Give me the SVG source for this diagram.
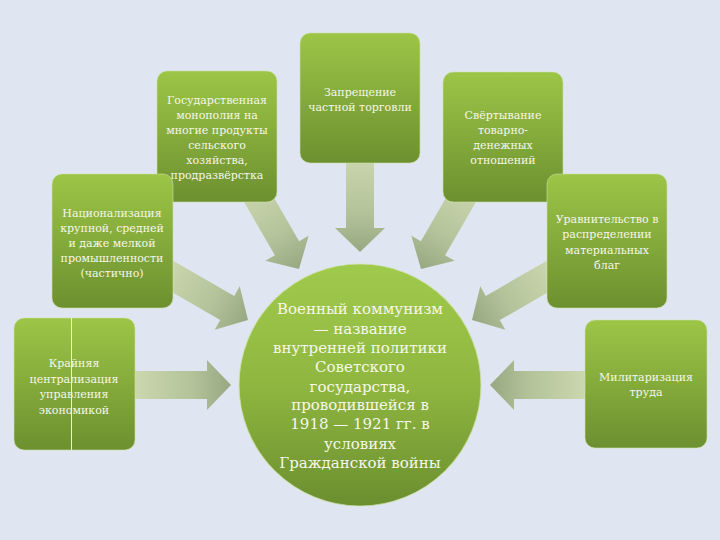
<svg xmlns="http://www.w3.org/2000/svg" width="720" height="540" viewBox="0 0 720 540">
<defs>
<linearGradient id="gBox" x1="0" y1="0" x2="0" y2="1">
<stop offset="0" stop-color="#9dc546"/>
<stop offset="1" stop-color="#6c9030"/>
</linearGradient>
<linearGradient id="gCircle" x1="0" y1="0" x2="0" y2="1">
<stop offset="0" stop-color="#a0ca4c"/>
<stop offset="0.5" stop-color="#8fb740"/>
<stop offset="1" stop-color="#6b8e2f"/>
</linearGradient>
<linearGradient id="gArrow" x1="0" y1="0" x2="1" y2="0">
<stop offset="0" stop-color="#cdd9b0"/>
<stop offset="0.6" stop-color="#b4c39a"/>
<stop offset="1" stop-color="#97a882"/>
</linearGradient>
<path id="arrow" d="M0,-14 H76 V-25 L100,0 L76,25 V14 H0 Z"/>
</defs>
<style>
.box{fill:url(#gBox);stroke:#cfe0a8;stroke-opacity:0.6;stroke-width:1}
.circ{fill:url(#gCircle);stroke:#d2e2ad;stroke-opacity:0.7;stroke-width:1.2}
.arr{fill:url(#gArrow)}
.t{font-family:'DejaVu Serif',serif;font-size:11px;fill:#f6f7ea;text-anchor:middle}
.tc{font-family:'DejaVu Serif',serif;font-size:15px;fill:#f6f7ea;text-anchor:middle}
</style>
<rect width="720" height="540" fill="#dfe6f1"/>
<g id="connectors">
<use href="#arrow" class="arr" transform="translate(360,152) rotate(90)"/>
<use href="#arrow" class="arr" transform="translate(131,385)"/>
<use href="#arrow" class="arr" transform="translate(590,385) rotate(180)"/>
<use href="#arrow" class="arr" transform="translate(249,182.5) rotate(60)"/>
<use href="#arrow" class="arr" transform="translate(471,182.5) rotate(120)"/>
<use href="#arrow" class="arr" transform="translate(161.4,270) rotate(30)"/>
<use href="#arrow" class="arr" transform="translate(558.6,270) rotate(150)"/>
</g>
<g id="center">
<circle class="circ" cx="360" cy="385" r="121"/>
<text class="tc" x="360" y="314">Военный коммунизм</text>
<text class="tc" x="360" y="334">— название</text>
<text class="tc" x="360" y="353">внутренней политики</text>
<text class="tc" x="360" y="372">Советского</text>
<text class="tc" x="360" y="392">государства,</text>
<text class="tc" x="360" y="410">проводившейся в</text>
<text class="tc" x="360" y="429">1918 — 1921 гг. в</text>
<text class="tc" x="360" y="449">условиях</text>
<text class="tc" x="360" y="468">Гражданской войны</text>
</g>
<g id="n1">
<rect class="box" x="157" y="71" width="120" height="131" rx="10"/>
<text class="t" x="217" y="104">Государственная</text>
<text class="t" x="217" y="119">монополия на</text>
<text class="t" x="217" y="134">многие продукты</text>
<text class="t" x="217" y="149">сельского</text>
<text class="t" x="217" y="164">хозяйства,</text>
<text class="t" x="217" y="179">продразвёрстка</text>
</g>
<g id="n2">
<rect class="box" x="300" y="33" width="120" height="130" rx="10"/>
<text class="t" x="360" y="96">Запрещение</text>
<text class="t" x="360" y="111">частной торговли</text>
</g>
<g id="n3">
<rect class="box" x="443" y="72" width="120" height="130" rx="10"/>
<text class="t" x="503" y="119">Свёртывание</text>
<text class="t" x="503" y="134">товарно-</text>
<text class="t" x="503" y="149">денежных</text>
<text class="t" x="503" y="164">отношений</text>
</g>
<g id="n4">
<rect class="box" x="547" y="174" width="120" height="134" rx="10"/>
<text class="t" x="607" y="223">Уравнительство в</text>
<text class="t" x="607" y="238">распределении</text>
<text class="t" x="607" y="254">материальных</text>
<text class="t" x="607" y="269">благ</text>
</g>
<g id="n5">
<rect class="box" x="52" y="174" width="121" height="134" rx="10"/>
<text class="t" x="112" y="217">Национализация</text>
<text class="t" x="112" y="232">крупной, средней</text>
<text class="t" x="112" y="247">и даже мелкой</text>
<text class="t" x="112" y="262">промышленности</text>
<text class="t" x="112" y="277">(частично)</text>
</g>
<g id="n6">
<rect class="box" x="14" y="318" width="121" height="132" rx="10"/>
<line x1="71.5" y1="318" x2="71.5" y2="450" stroke="#eef3dc" stroke-width="1"/>
<text class="t" x="74" y="367">Крайняя</text>
<text class="t" x="74" y="383">централизация</text>
<text class="t" x="74" y="398">управления</text>
<text class="t" x="74" y="414">экономикой</text>
</g>
<g id="n7">
<rect class="box" x="585" y="320" width="122" height="128" rx="10"/>
<text class="t" x="646" y="381">Милитаризация</text>
<text class="t" x="646" y="396">труда</text>
</g>
</svg>
